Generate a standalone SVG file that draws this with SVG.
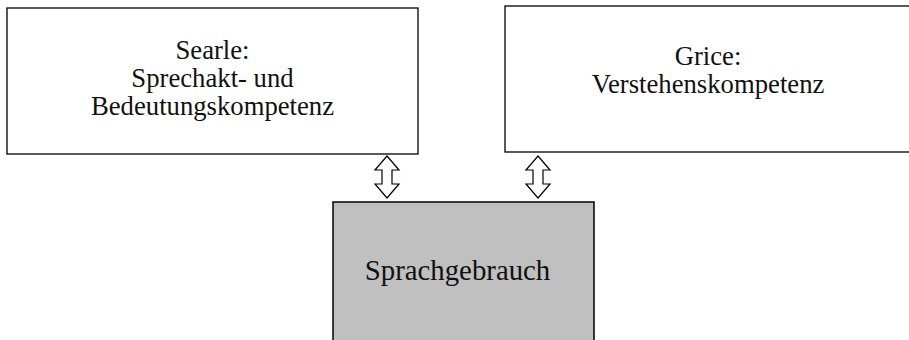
<svg xmlns="http://www.w3.org/2000/svg" xmlns:xlink="http://www.w3.org/1999/xlink" width="909" height="340" viewBox="0 0 909 340">
  <style>
    .box { fill: #ffffff; stroke: #000000; stroke-width: 1.3; }
    .usage { fill: #c0c0c0; stroke: #000000; stroke-width: 1.5; }
    .label { font-family: "Liberation Serif", "Times New Roman", serif; font-size: 26.7px; fill: #111111; text-anchor: middle; }
    .usage-label { font-size: 28.8px; }
    .arrow { fill: #ffffff; stroke: #000000; stroke-width: 1.2; stroke-linejoin: miter; }
  </style>
  <defs>
    <!-- hollow double-headed vertical arrow, centred on x = 0 -->
    <path id="dbl-arrow" class="arrow" d="M0,156 L12,170 L5,170 L5,184 L12,184 L0,198 L-12,184 L-5,184 L-5,170 L-12,170 Z"/>
  </defs>

  <rect width="909" height="340" fill="#ffffff"/>

  <g id="searle">
    <rect class="box" x="7" y="8" width="411" height="146"/>
    <text class="label" x="212.5" y="59">Searle:</text>
    <text class="label" x="212.5" y="87">Sprechakt- und</text>
    <text class="label" x="212.5" y="115">Bedeutungskompetenz</text>
  </g>

  <g id="grice">
    <rect class="box" x="505" y="6" width="410" height="146"/>
    <text class="label" x="708" y="65">Grice:</text>
    <text class="label" x="708" y="93">Verstehenskompetenz</text>
  </g>

  <g id="sprachgebrauch">
    <rect class="usage" x="333" y="202" width="261" height="150"/>
    <text class="label usage-label" x="457.5" y="280">Sprachgebrauch</text>
  </g>

  <g id="connectors">
    <use xlink:href="#dbl-arrow" transform="translate(387,0)"/>
    <use xlink:href="#dbl-arrow" transform="translate(538,0)"/>
  </g>
</svg>
